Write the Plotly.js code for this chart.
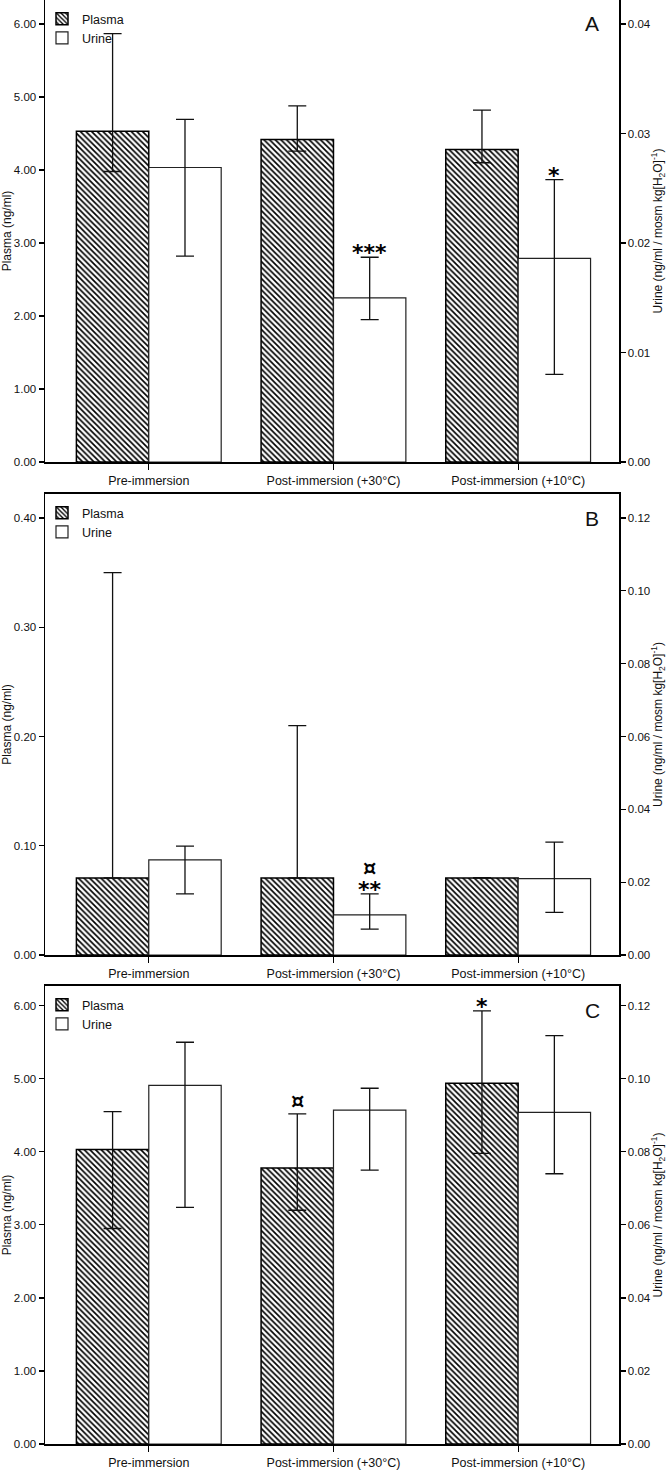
<!DOCTYPE html>
<html><head><meta charset="utf-8">
<script src="https://cdn.plot.ly/plotly-3.0.1.min.js"></script>
<style>html,body{margin:0;padding:0;background:#fff;} #chart{width:667px;height:1470px;}</style>
</head><body><div id="chart"></div>
<script>
// ---- data ----
const categories = ['Pre-immersion', 'Post-immersion (+30°C)', 'Post-immersion (+10°C)'];

const plasmaA = [4.53, 4.42, 4.28];
const plasmaA_hi = [5.87, 4.88, 4.82];
const plasmaA_lo = [3.98, 4.26, 4.10];
const urineA = [0.0269, 0.0150, 0.0186];
const urineA_hi = [0.0313, 0.0187, 0.0258];
const urineA_lo = [0.0188, 0.0130, 0.0080];

const plasmaB = [0.0705, 0.0705, 0.0705];
const plasmaB_hi = [0.350, 0.210, 0.0708];
const plasmaB_lo = [0.0705, 0.0705, 0.0705];
const urineB = [0.0261, 0.0110, 0.0210];
const urineB_hi = [0.0299, 0.0168, 0.0310];
const urineB_lo = [0.0168, 0.0071, 0.0117];

const plasmaC = [4.03, 3.78, 4.94];
const plasmaC_hi = [4.55, 4.52, 5.93];
const plasmaC_lo = [2.95, 3.20, 3.98];
const urineC = [0.0982, 0.0914, 0.0908];
const urineC_hi = [0.1100, 0.0974, 0.1118];
const urineC_lo = [0.0648, 0.0750, 0.0740];

// significance marks: [panel, series, category index, text, stack level]
const marks = [
  ['A', 'urine', 1, '***', 0],
  ['A', 'urine', 2, '*', 0],
  ['B', 'urine', 1, '**', 0],
  ['B', 'urine', 1, '¤', 1],
  ['C', 'plasma', 1, '¤', 0],
  ['C', 'plasma', 2, '*', 0]
];
const panelLetters = ['A', 'B', 'C'];

// ---- layout helpers ----
const W = 667, H = 1470;
const px = v => v / W;
const py = v => 1 - v / H;
const FONT = 'Liberation Sans, Arial, sans-serif';
const BW = 0.392;

const panels = [
  {letter: 'A', p: plasmaA, phi: plasmaA_hi, plo: plasmaA_lo, u: urineA, uhi: urineA_hi, ulo: urineA_lo,
   top: 0, bottom: 462, yMax: 6.33, y2Max: 0.0422, dtick: 1, dtick2: 0.01},
  {letter: 'B', p: plasmaB, phi: plasmaB_hi, plo: plasmaB_lo, u: urineB, uhi: urineB_hi, ulo: urineB_lo,
   top: 494, bottom: 955, yMax: 0.422, y2Max: 0.1266, dtick: 0.1, dtick2: 0.02},
  {letter: 'C', p: plasmaC, phi: plasmaC_hi, plo: plasmaC_lo, u: urineC, uhi: urineC_hi, ulo: urineC_lo,
   top: 986, bottom: 1444, yMax: 6.27, y2Max: 0.1254, dtick: 1, dtick2: 0.02}
];

const traces = [];
const layout = {
  width: W, height: H,
  margin: {l: 0, r: 0, t: 0, b: 0},
  paper_bgcolor: '#fff', plot_bgcolor: '#fff',
  font: {family: FONT, size: 12, color: '#111'},
  showlegend: true,
  barmode: 'overlay',
  annotations: []
};

panels.forEach((P, i) => {
  const xn = i === 0 ? '' : String(i + 1);
  const y1n = i === 0 ? '' : String(2 * i + 1);
  const y2n = String(2 * i + 2);
  const legendName = i === 0 ? 'legend' : 'legend' + (i + 1);
  const sub = (arrA, arrB) => arrA.map((v, k) => v - arrB[k]);

  traces.push({
    type: 'bar', name: 'Plasma', x: categories, y: P.p,
    xaxis: 'x' + xn, yaxis: 'y' + y1n, legend: legendName,
    offset: -BW, width: BW,
    marker: {color: '#fff', pattern: {shape: '\\', fgcolor: '#000', bgcolor: '#fff', size: 4, solidity: 0.42},
             line: {color: '#000', width: 1.5}},
    error_y: {type: 'data', symmetric: false, array: sub(P.phi, P.p), arrayminus: sub(P.p, P.plo),
              color: '#111', thickness: 1.3, width: 9},
    hoverinfo: 'skip'
  });
  traces.push({
    type: 'bar', name: 'Urine', x: categories, y: P.u,
    xaxis: 'x' + xn, yaxis: 'y' + y2n, legend: legendName,
    offset: 0, width: BW,
    marker: {color: '#fff', line: {color: '#222', width: 1.2}},
    error_y: {type: 'data', symmetric: false, array: sub(P.uhi, P.u), arrayminus: sub(P.u, P.ulo),
              color: '#111', thickness: 1.3, width: 9},
    hoverinfo: 'skip'
  });

  const dom = [py(P.bottom), py(P.top)];
  layout['xaxis' + xn] = {
    domain: [px(45), px(619)], anchor: 'y' + y1n, type: 'category',
    range: [-0.562, 2.546], showline: true, linecolor: '#000', linewidth: 1.8, mirror: true,
    ticks: 'outside', ticklen: 6, tickcolor: '#000', tickwidth: 1.2,
    tickfont: {size: 12.5, color: '#111'}, showgrid: false, zeroline: false, automargin: false, fixedrange: true
  };
  layout['yaxis' + y1n] = {
    domain: dom, anchor: 'x' + xn, range: [0, P.yMax], dtick: P.dtick, tick0: 0, tickformat: '.2f',
    ticks: 'outside', ticklen: 5, tickcolor: '#000', tickwidth: 1.2, showline: true, linecolor: '#000', linewidth: 1.5,
    showgrid: false, zeroline: false, automargin: false, fixedrange: true,
    tickfont: {size: 11.5, color: '#111'},
    title: {text: 'Plasma (ng/ml)', font: {size: 12, color: '#111'}, standoff: 3}
  };
  layout['yaxis' + y2n] = {
    overlaying: 'y' + y1n, side: 'right', anchor: 'x' + xn, range: [0, P.y2Max], dtick: P.dtick2, tick0: 0,
    tickformat: '.2f', ticks: 'outside', ticklen: 5, tickcolor: '#000', tickwidth: 1.2,
    showline: true, linecolor: '#000', linewidth: 1.5, showgrid: false, zeroline: false,
    automargin: false, fixedrange: true, tickfont: {size: 11.5, color: '#111'},
    title: {text: 'Urine (ng/ml / mosm kg[H<sub>2</sub>O]<sup>-1</sup>)', font: {size: 12, color: '#111'}, standoff: 3}
  };
  layout[legendName] = {
    x: px(42), y: py(P.top + 4), xanchor: 'left', yanchor: 'top',
    bgcolor: 'rgba(0,0,0,0)', font: {size: 12.5, color: '#111'},
    tracegroupgap: 0, itemwidth: 30, traceorder: 'normal'
  };
  layout.annotations.push({
    xref: 'paper', yref: 'paper', x: px(592), y: py(P.top + 24), text: panelLetters[i],
    showarrow: false, font: {size: 21, color: '#111'}, xanchor: 'center', yanchor: 'middle'
  });

  marks.filter(m => m[0] === P.letter).forEach(m => {
    const isU = m[1] === 'urine';
    const idx = m[2];
    const isStar = m[3].indexOf('*') >= 0;
    layout.annotations.push({
      xref: 'x' + xn, yref: isU ? 'y' + y2n : 'y' + y1n,
      x: idx + (isU ? BW / 2 : -BW / 2), y: isU ? P.uhi[idx] : P.phi[idx],
      text: '<b>' + m[3] + '</b>', showarrow: false, xanchor: 'center', yanchor: 'bottom',
      yshift: isStar ? -10 : (m[4] > 0 ? 12 : -1),
      font: {size: isStar ? 22 : 21, color: '#000', family: 'DejaVu Sans, sans-serif'}
    });
  });
});

Plotly.newPlot('chart', traces, layout, {displayModeBar: false, staticPlot: true});
</script>
</body></html>
